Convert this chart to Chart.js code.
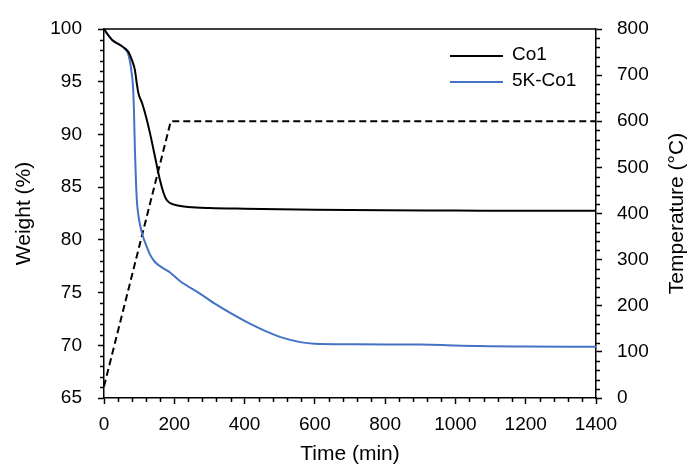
<!DOCTYPE html>
<html>
<head>
<meta charset="utf-8">
<script src="https://cdn.jsdelivr.net/npm/chart.js@4"></script>
<style>
  html, body { margin: 0; padding: 0; background: #fff; }
  #wrap { width: 687px; height: 466px; }
</style>
</head>
<body>
<div id="wrap"><canvas id="tgaChart" width="687" height="466"></canvas></div>
<script>
// TGA curves
const timeCo1   = [0, 10, 25, 45, 60, 70, 80, 88, 93, 98, 108, 117, 131, 145, 159, 170, 178, 190, 210, 240, 300, 400, 600, 800, 1000, 1200, 1400];
const weightCo1 = [100, 99.5, 98.9, 98.5, 98.15, 97.8, 97.0, 96.1, 94.9, 93.9, 93.0, 92.0, 90.1, 87.9, 85.7, 84.4, 83.8, 83.45, 83.25, 83.12, 83.02, 82.95, 82.85, 82.8, 82.78, 82.75, 82.75];

const time5K   = [0, 10, 25, 45, 60, 68, 74, 78, 82, 85, 88, 91, 94, 98, 104, 112, 121, 131, 145, 169, 188, 216, 273, 320, 368, 415, 463, 510, 558, 600, 700, 800, 900, 1000, 1100, 1200, 1400];
const weight5K = [100, 99.5, 98.9, 98.5, 98.1, 97.7, 96.9, 96.0, 94.8, 92.6, 88.5, 85.5, 83.5, 82.3, 81.2, 80.2, 79.4, 78.6, 77.9, 77.3, 76.9, 76.1, 74.9, 73.85, 72.9, 72.05, 71.3, 70.7, 70.3, 70.15, 70.1, 70.08, 70.08, 69.98, 69.9, 69.88, 69.86];

const timeTemp = [0, 190, 1400];
const tempC    = [25, 600, 600];

const seriesNames = ["Co1", "5K-Co1"];
const seriesColors = ["#000000", "#4472c4"];
const tempTitle = "Temperature (°C)";

const FONT = "'Liberation Sans', Arial, sans-serif";

function pts(xs, ys) { return xs.map((x, i) => ({x: x, y: ys[i]})); }

// minor ticks, top border, inside legend, right axis title
const extras = {
  id: "extras",
  afterDraw(chart) {
    const ctx = chart.ctx;
    const {left, right, top, bottom} = chart.chartArea;
    const sx = chart.scales.x, sy = chart.scales.y, sy1 = chart.scales.y1;
    ctx.save();
    ctx.strokeStyle = "#000";
    ctx.lineWidth = 1.5;
    ctx.beginPath();
    ctx.moveTo(left, top); ctx.lineTo(right, top);
    for (let v = 0; v <= 1400; v += 40) {
      if (v % 200 === 0) continue;
      const px = Math.round(sx.getPixelForValue(v)) + 0.5;
      ctx.moveTo(px, bottom); ctx.lineTo(px, bottom + 4);
    }
    for (let v = 65; v <= 100; v += 1) {
      if (v % 5 === 0) continue;
      const py = Math.round(sy.getPixelForValue(v)) + 0.5;
      ctx.moveTo(left - 4, py); ctx.lineTo(left, py);
    }
    for (let v = 0; v <= 800; v += 20) {
      if (v % 100 === 0) continue;
      const py = Math.round(sy1.getPixelForValue(v)) + 0.5;
      ctx.moveTo(right, py); ctx.lineTo(right + 4, py);
    }
    ctx.stroke();

    // legend
    ctx.font = "19px " + FONT;
    ctx.textBaseline = "middle";
    ctx.fillStyle = "#000";
    seriesNames.forEach((name, i) => {
      const y = 56 + i * 26;
      ctx.strokeStyle = seriesColors[i];
      ctx.lineWidth = 2;
      ctx.beginPath();
      ctx.moveTo(450, y); ctx.lineTo(503, y);
      ctx.stroke();
      ctx.fillText(name, 512, y - 1);
    });

    // right title reads bottom to top
    ctx.font = "21px " + FONT;
    ctx.textAlign = "center";
    ctx.translate(677, (top + bottom) / 2);
    ctx.rotate(-Math.PI / 2);
    ctx.fillText(tempTitle, 0, 0);
    ctx.restore();
  }
};

const tickFont = {family: FONT, size: 19};
const titleFont = {family: FONT, size: 21, lineHeight: 1};
const plain = v => String(v);

new Chart(document.getElementById("tgaChart"), {
  type: "line",
  data: {
    datasets: [
      {
        label: seriesNames[0],
        data: pts(timeCo1, weightCo1),
        borderColor: seriesColors[0],
        borderWidth: 2,
        pointRadius: 0,
        cubicInterpolationMode: "monotone",
        yAxisID: "y"
      },
      {
        label: seriesNames[1],
        data: pts(time5K, weight5K),
        borderColor: seriesColors[1],
        borderWidth: 2,
        pointRadius: 0,
        cubicInterpolationMode: "monotone",
        yAxisID: "y"
      },
      {
        label: "Temperature",
        data: pts(timeTemp, tempC),
        borderColor: "#000",
        borderWidth: 2,
        borderDash: [7, 4],
        pointRadius: 0,
        tension: 0,
        yAxisID: "y1"
      }
    ]
  },
  options: {
    responsive: false,
    animation: false,
    layout: {padding: {top: 29, left: 0, right: 0, bottom: 0}},
    plugins: {legend: {display: false}, tooltip: {enabled: false}},
    scales: {
      x: {
        type: "linear",
        min: 0, max: 1400,
        afterFit: s => { s.height = 68; },
        ticks: {stepSize: 200, color: "#000", font: tickFont, padding: 9, maxRotation: 0, callback: plain},
        grid: {drawOnChartArea: false, tickLength: 6, tickColor: "#000", tickWidth: 1.5},
        border: {color: "#000", width: 1.5},
        title: {display: true, text: "Time (min)", color: "#000", font: titleFont, padding: {top: 0, bottom: 1}}
      },
      y: {
        position: "left",
        min: 65, max: 100,
        afterFit: s => { s.width = 104; },
        ticks: {stepSize: 5, color: "#000", font: tickFont, padding: 16, callback: plain},
        grid: {drawOnChartArea: false, tickLength: 6, tickColor: "#000", tickWidth: 1.5},
        border: {color: "#000", width: 1.5},
        title: {display: true, text: "Weight (%)", color: "#000", font: titleFont, padding: {top: 14, bottom: 0}}
      },
      y1: {
        position: "right",
        min: 0, max: 800,
        afterFit: s => { s.width = 91; },
        ticks: {stepSize: 100, color: "#000", font: tickFont, padding: 15, callback: plain},
        grid: {drawOnChartArea: false, tickLength: 6, tickColor: "#000", tickWidth: 1.5},
        border: {color: "#000", width: 1.5},
        title: {display: false}
      }
    }
  },
  plugins: [extras]
});
</script>
</body>
</html>
